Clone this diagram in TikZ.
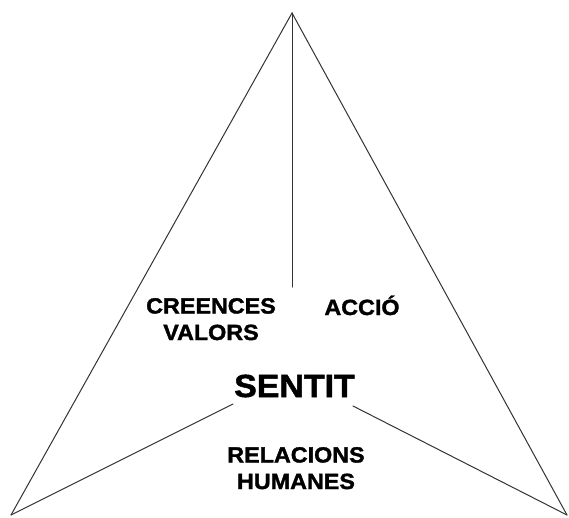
\documentclass[tikz,border=0pt]{standalone}
\usepackage{fontspec}
\setmainfont{Liberation Sans}
\newfontfamily\lblfont{Liberation Sans}[FakeStretch=1.06, FakeBold=1.6]
\usepackage{tikz}
\usetikzlibrary{positioning, calc}

\begin{document}
\begin{tikzpicture}[
    x=1pt, y=-1pt,
    every path/.style={line cap=round},
]
% ── Colours ──
\definecolor{edge}{HTML}{333333}

% ── Styles ──
\tikzset{
    side/.style={draw=edge, line width=1pt},
    lbl/.style={
        inner sep=0pt, align=center, anchor=base,
        font=\lblfont\bfseries\fontsize{22}{26.5}\selectfont,
    },
    core/.style={lbl, font=\lblfont\bfseries\fontsize{32}{36}\selectfont},
}

\useasboundingbox (0,0) rectangle (569,517);

% ── Corners ──
\coordinate (apex) at (292,13);
\coordinate (bl) at (11,515);
\coordinate (br) at (567,515);
\coordinate (mid) at (292,287);
\coordinate (sl) at (233,404);
\coordinate (sr) at (353,406);

% ── Outline ──
\draw[side] (bl) -- (apex) -- (br);
\draw[side] (apex) -- (mid);
\draw[side] (bl) -- (sl);
\draw[side] (br) -- (sr);

% ── Labels (base = last line) ──
\node[lbl] (creen) at (211,340) {CREENCES\\VALORS};
\node[lbl] (accio) at (362,315) {ACCIÓ};
\node[core] (sentit) at (294.5,397) {SENTIT};
\node[lbl] (relac) at (296,489) {RELACIONS\\HUMANES};

\end{tikzpicture}
\end{document}
